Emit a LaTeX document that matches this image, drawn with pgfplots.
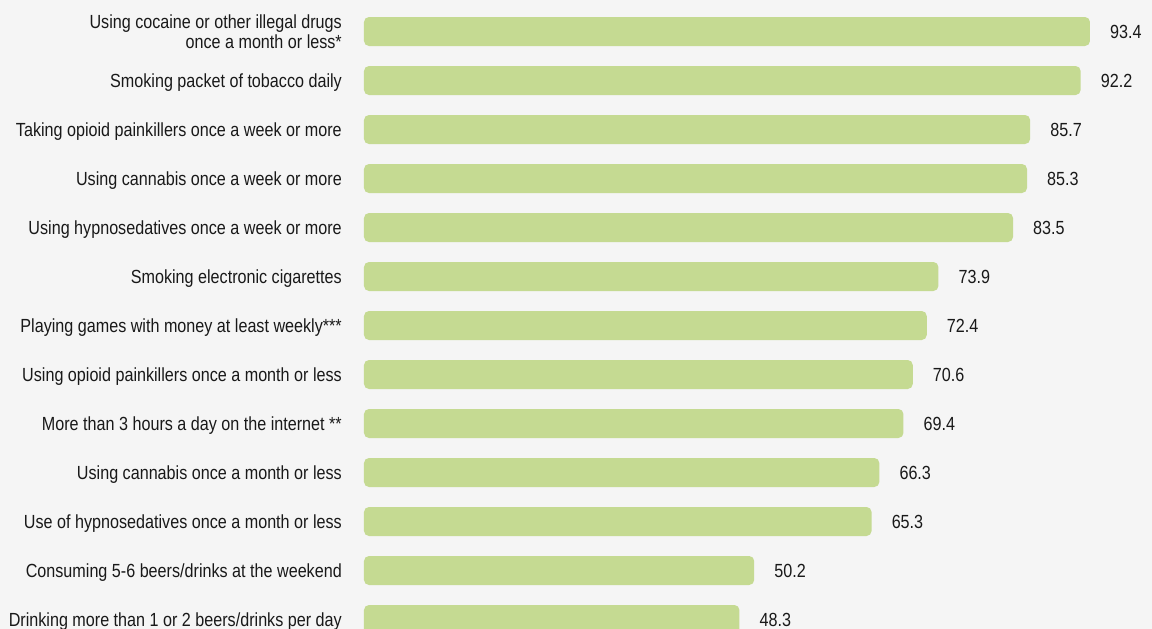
\documentclass[border=0pt]{standalone}
\usepackage{fontspec}
\setmainfont{Liberation Sans}[FakeStretch=0.85]
\usepackage{pgfplots}
\pgfplotsset{compat=1.18}
\definecolor{bg}{RGB}{245,245,245}
\definecolor{barc}{RGB}{197,218,146}
\definecolor{txt}{RGB}{25,25,25}
\begin{document}
\begin{tikzpicture}[x=1pt,y=1pt]
\path[use as bounding box, fill=bg] (0,0) rectangle (1152,629);
\clip (0,0) rectangle (1152,629);
\begin{axis}[
  at={(364pt,0pt)}, anchor=south west,
  scale only axis, width=788pt, height=629pt,
  xmin=0, xmax=101.38, ymin=-0.643, ymax=12.194,
  y dir=reverse,
  xbar, bar width=29pt,
  axis line style={draw=none},
  xtick=\empty,
  ytick={0,...,12},
  yticklabels={
    {\strut Using cocaine or other illegal drugs\\\strut once a month or less*},
    {\strut Smoking packet of tobacco daily},
    {\strut Taking opioid painkillers once a week or more},
    {\strut Using cannabis once a week or more},
    {\strut Using hypnosedatives once a week or more},
    {\strut Smoking electronic cigarettes},
    {\strut Playing games with money at least weekly***},
    {\strut Using opioid painkillers once a month or less},
    {\strut More than 3 hours a day on the internet **},
    {\strut Using cannabis once a month or less},
    {\strut Use of hypnosedatives once a month or less},
    {\strut Consuming 5-6 beers/drinks at the weekend},
    {\strut Drinking more than 1 or 2 beers/drinks per day}},
  major tick length=0pt,
  yticklabel style={align=right, inner sep=0pt, xshift=-22pt, yshift=-3pt,
    font=\fontsize{19}{19}\selectfont, text=txt},
  /pgf/number format/.cd, fixed, fixed zerofill, precision=1, assume math mode=true,
  /pgfplots/.cd,
  nodes near coords,
  nodes near coords style={anchor=west, inner sep=0pt, xshift=20pt,
    font=\fontsize{19}{19}\selectfont, text=txt},
  clip=true,
]
\addplot[fill=barc, draw=none, rounded corners=5pt] coordinates {
  (93.4,0) (92.2,1) (85.7,2) (85.3,3) (83.5,4) (73.9,5) (72.4,6)
  (70.6,7) (69.4,8) (66.3,9) (65.3,10) (50.2,11) (48.3,12)};
\end{axis}
\end{tikzpicture}
\end{document}
